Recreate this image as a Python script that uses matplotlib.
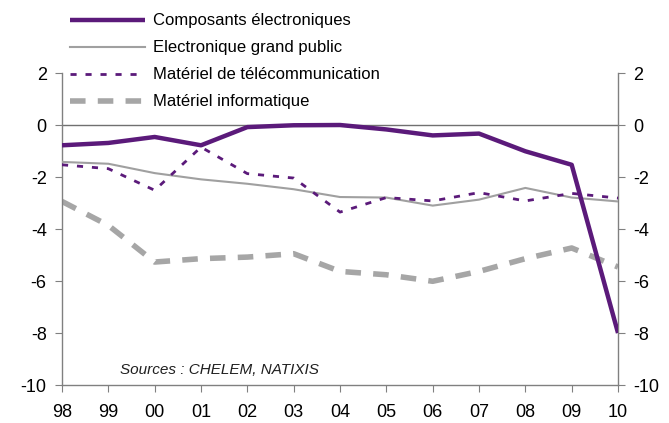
import matplotlib
matplotlib.use("Agg")
import matplotlib.pyplot as plt

years = ["98", "99", "00", "01", "02", "03", "04", "05", "06", "07", "08", "09", "10"]
composants = [-0.78, -0.69, -0.46, -0.78, -0.08, -0.01, 0.0, -0.17, -0.40, -0.33, -1.01, -1.53, -8.0]
grand_public = [-1.42, -1.49, -1.85, -2.09, -2.26, -2.47, -2.77, -2.79, -3.10, -2.87, -2.42, -2.79, -2.94]
telecom = [-1.53, -1.68, -2.51, -0.85, -1.87, -2.04, -3.35, -2.79, -2.92, -2.60, -2.92, -2.63, -2.81]
informatique = [-2.94, -3.86, -5.27, -5.14, -5.08, -4.95, -5.63, -5.76, -6.01, -5.63, -5.14, -4.73, -5.46]
labels = ["Composants électroniques", "Electronique grand public",
          "Matériel de télécommunication", "Matériel informatique"]
yticks = [2, 0, -2, -4, -6, -8, -10]

plt.rcParams['font.family'] = ['Liberation Sans', 'DejaVu Sans']
purple = "#5B1A7A"
grey = "#A0A0A0"
axis_grey = "#808080"

fig = plt.figure(figsize=(6.69, 4.23), dpi=100)
ax = fig.add_axes([0.0927, 0.0898, 0.8311, 0.7376])
x = list(range(len(years)))

ax.axhline(0, color="#707070", lw=1.0, zorder=1)
l1, = ax.plot(x, composants, color=purple, lw=3.2, solid_capstyle='butt', zorder=5, label=labels[0])
l2, = ax.plot(x, grand_public, color=grey, lw=1.5, zorder=3, label=labels[1])
l3, = ax.plot(x, telecom, color=purple, lw=2.0, linestyle=(0, (2.2, 3.2)), zorder=4, label=labels[2])
l4, = ax.plot(x, informatique, color="#A6A6A6", lw=4.0, linestyle=(0, (2.8, 2.2)), zorder=2, label=labels[3])

ax.set_xlim(0, len(years) - 1)
ax.set_ylim(-10, 2)
ax.set_yticks(yticks)
ax.set_yticklabels([str(v) for v in yticks])
ax.set_xticks(x)
ax.set_xticklabels(years)

for s in ["top"]:
    ax.spines[s].set_visible(False)
for s in ["left", "right", "bottom"]:
    ax.spines[s].set_color(axis_grey)
    ax.spines[s].set_linewidth(1.0)

ax.tick_params(axis='y', which='both', direction='out', length=5, color=axis_grey,
               labelsize=13, left=True, right=True, labelleft=True, labelright=True, pad=6)
ax.tick_params(axis='x', direction='out', length=5, color=axis_grey, labelsize=13, pad=9)

ax.text(1.25, -9.42, "Sources : CHELEM, NATIXIS", fontsize=11, style='italic',
        color="#202020", va='center')

leg = fig.legend(handles=[l1, l2, l3, l4], labels=labels, loc='upper left',
                 bbox_to_anchor=(0.087, 0.996), frameon=False, fontsize=12,
                 handlelength=4.5, handletextpad=0.5, labelspacing=0.72,
                 borderaxespad=0.3)

fig.savefig("out.png", dpi=100)
